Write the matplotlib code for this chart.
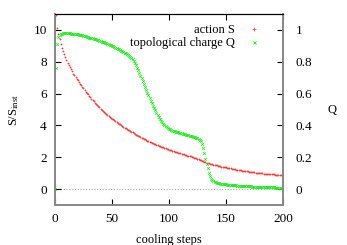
import matplotlib
matplotlib.use("Agg")
import matplotlib.pyplot as plt

plt.rcParams["font.family"] = ["Liberation Serif", "DejaVu Serif"]
plt.rcParams["mathtext.fontset"] = "custom"
plt.rcParams["mathtext.rm"] = "Liberation Serif"
plt.rcParams["mathtext.it"] = "Liberation Serif:italic"
plt.rcParams["font.size"] = 9

steps = list(range(201))

action_s = [
    12.50, 10.95, 10.15, 9.72, 9.40, 9.12, 8.88, 8.66, 8.46, 8.27,
    8.10, 7.95, 7.80, 7.66, 7.52, 7.39, 7.26, 7.14, 7.03, 6.93,
    6.84, 6.73, 6.62, 6.52, 6.42, 6.32, 6.22, 6.13, 6.04, 5.95,
    5.86, 5.77, 5.68, 5.60, 5.52, 5.44, 5.36, 5.28, 5.20, 5.13,
    5.06, 4.99, 4.92, 4.85, 4.79, 4.73, 4.67, 4.61, 4.55, 4.49,
    4.43, 4.38, 4.32, 4.27, 4.22, 4.17, 4.12, 4.07, 4.02, 3.97,
    3.92, 3.87, 3.83, 3.78, 3.74, 3.69, 3.65, 3.60, 3.56, 3.51,
    3.47, 3.43, 3.39, 3.35, 3.31, 3.27, 3.23, 3.19, 3.15, 3.12,
    3.08, 3.05, 3.01, 2.98, 2.95, 2.92, 2.88, 2.85, 2.82, 2.79,
    2.76, 2.73, 2.70, 2.67, 2.65, 2.62, 2.59, 2.56, 2.54, 2.51,
    2.48, 2.46, 2.43, 2.41, 2.38, 2.36, 2.34, 2.31, 2.29, 2.26,
    2.24, 2.22, 2.20, 2.18, 2.16, 2.13, 2.11, 2.09, 2.07, 2.05,
    2.03, 2.01, 1.98, 1.96, 1.93, 1.91, 1.88, 1.86, 1.83, 1.79,
    1.76, 1.73, 1.70, 1.67, 1.64, 1.62, 1.60, 1.58, 1.56, 1.54,
    1.52, 1.50, 1.49, 1.47, 1.46, 1.44, 1.42, 1.41, 1.39, 1.38,
    1.36, 1.35, 1.33, 1.32, 1.30, 1.29, 1.27, 1.26, 1.24, 1.23,
    1.21, 1.20, 1.19, 1.18, 1.17, 1.16, 1.14, 1.13, 1.12, 1.11,
    1.10, 1.09, 1.08, 1.07, 1.06, 1.05, 1.04, 1.03, 1.02, 1.01,
    1.00, 0.99, 0.99, 0.98, 0.97, 0.96, 0.96, 0.95, 0.94, 0.94,
    0.93, 0.92, 0.92, 0.91, 0.91, 0.90, 0.89, 0.89, 0.88, 0.88,
    0.87,
]

charge_q = [
    0.000, 0.760, 0.910, 0.955, 0.968, 0.974, 0.977, 0.978, 0.979, 0.979,
    0.979, 0.979, 0.978, 0.978, 0.977, 0.977, 0.976, 0.975, 0.974, 0.973,
    0.972, 0.970, 0.968, 0.967, 0.965, 0.963, 0.961, 0.959, 0.957, 0.955,
    0.952, 0.950, 0.948, 0.946, 0.944, 0.942, 0.940, 0.937, 0.935, 0.932,
    0.930, 0.927, 0.924, 0.922, 0.919, 0.916, 0.913, 0.910, 0.907, 0.903,
    0.900, 0.896, 0.893, 0.889, 0.886, 0.882, 0.878, 0.874, 0.870, 0.866,
    0.862, 0.857, 0.853, 0.848, 0.843, 0.838, 0.831, 0.823, 0.815, 0.804,
    0.792, 0.778, 0.763, 0.747, 0.730, 0.713, 0.695, 0.677, 0.659, 0.641,
    0.623, 0.606, 0.589, 0.572, 0.556, 0.540, 0.524, 0.509, 0.494, 0.480,
    0.466, 0.453, 0.441, 0.430, 0.420, 0.411, 0.403, 0.396, 0.390, 0.384,
    0.379, 0.375, 0.371, 0.368, 0.365, 0.362, 0.360, 0.358, 0.356, 0.354,
    0.352, 0.350, 0.348, 0.346, 0.344, 0.342, 0.340, 0.338, 0.336, 0.334,
    0.332, 0.330, 0.328, 0.325, 0.322, 0.319, 0.315, 0.310, 0.300, 0.284,
    0.257, 0.224, 0.191, 0.160, 0.130, 0.102, 0.080, 0.065, 0.055, 0.049,
    0.045, 0.042, 0.040, 0.038, 0.036, 0.035, 0.034, 0.033, 0.032, 0.031,
    0.030, 0.029, 0.028, 0.028, 0.027, 0.026, 0.025, 0.025, 0.024, 0.023,
    0.022, 0.022, 0.021, 0.021, 0.020, 0.020, 0.019, 0.019, 0.018, 0.018,
    0.017, 0.017, 0.017, 0.016, 0.016, 0.016, 0.015, 0.015, 0.015, 0.014,
    0.014, 0.014, 0.013, 0.013, 0.013, 0.013, 0.012, 0.012, 0.012, 0.011,
    0.011, 0.011, 0.011, 0.010, 0.010, 0.010, 0.010, 0.010, 0.009, 0.009,
    0.009,
]

s_ticks = [0, 2, 4, 6, 8, 10]
q_ticks = [0, 0.2, 0.4, 0.6, 0.8, 1]
q_tick_labels = ["0", "0.2", "0.4", "0.6", "0.8", "1"]
x_ticks = [0, 50, 100, 150, 200]

fig = plt.figure(figsize=(3.47, 2.45), dpi=100)
ax = fig.add_axes([0.1585, 0.163, 0.657, 0.78])
ax2 = ax.twinx()

ax.axhline(0, color="#aaaaaa", linestyle=(0, (1, 1.5)), linewidth=0.8, zorder=1)

(s_line,) = ax.plot(steps, action_s, linestyle="none", marker="+", markersize=2.0,
                    markeredgewidth=0.55, color="#ff3a3a", label="action S")
(q_line,) = ax2.plot(steps, charge_q, linestyle="none", marker="x", markersize=1.8,
                     markeredgewidth=0.6, color="#22ee22", label="topological charge Q")

ax.set_xlim(0, 200)
ax.set_ylim(-1, 11)
ax2.set_ylim(-0.1, 1.1)

ax.set_xticks(x_ticks)
ax.set_yticks(s_ticks)
ax2.set_yticks(q_ticks)
ax2.set_yticklabels(q_tick_labels)

ax.tick_params(axis="both", direction="in", length=4, width=0.8, top=True, right=False,
               labelsize=9.5)
ax.tick_params(axis="y", pad=6)
ax.tick_params(axis="x", pad=6)
ax2.tick_params(axis="y", direction="in", length=4, width=0.8, pad=9, labelsize=9.5)

for a in (ax, ax2):
    for side in ("left", "bottom", "right"):
        a.spines[side].set_color("#888888")
        a.spines[side].set_linewidth(1.3)
    a.spines["top"].set_color("black")
    a.spines["top"].set_linewidth(0.8)

ax.set_xlabel("cooling steps", labelpad=6)
ax.set_ylabel(r"$\mathrm{S/S_{inst}}$", labelpad=9)
ax2.set_ylabel("Q", rotation=0, labelpad=14, va="center")

ax2.legend(handles=[s_line, q_line], loc="upper right", bbox_to_anchor=(0.9, 0.945),
           markerfirst=False, frameon=False, handlelength=1.0, handletextpad=1.0,
           labelspacing=0.05, borderpad=0, borderaxespad=0, markerscale=1.2)

fig.savefig("out.png", dpi=100)
plt.close(fig)
